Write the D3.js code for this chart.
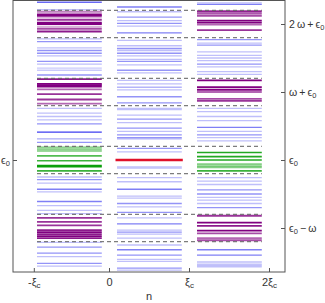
<!DOCTYPE html>
<html><head><meta charset="utf-8">
<script src="https://cdn.jsdelivr.net/npm/d3@7"></script>
<style>body{margin:0;background:#fff}svg{display:block}text{font-family:"Liberation Sans","DejaVu Sans",sans-serif;fill:#333}</style>
</head><body><svg id="c" width="325" height="303"></svg>
<script>
// energies in units of omega, relative to eps0
const colKeys = [-1, 0, 1];            // column n-offsets (in xi_c)
const windowCenters = [2, 1, 0, -1];   // resonance windows
const windowHalf = 0.2;
const redLevel = 0;                    // bare level in central column

const levelsLeft = [2.32,2.21,2.18,2.14,2.12,2.09,2.06,2.02,2.00,1.96,1.93,1.89,1.78,1.74,1.65,1.61,1.57,1.53,1.45,1.41,1.35,1.32,1.25,
  1.19,1.12,1.10,1.08,1.04,0.97,0.89,0.83,0.76,0.69,0.64,0.59,0.53,0.41,0.31,0.26,
  0.19,0.17,0.15,0.13,0.06,-0.01,-0.08,-0.10,-0.16,-0.25,-0.29,-0.34,-0.43,-0.47,-0.61,-0.67,-0.74,-0.79,
  -0.85,-0.91,-0.96,-1.03,-1.06,-1.09,-1.12,-1.15,-1.21,-1.28,-1.37,-1.42,-1.52,-1.56];
const weightsLeft = [0.7,0.3,0.5,1,1,0.3,0.8,1,1,0.3,0.7,0.9,0.3,0.5,0.3,0.5,0.5,0.3,0.5,0.3,0.25,0.25,0.5,
  0.9,1,1,1,0.6,0.8,0.8,0.6,0.3,0.3,0.3,0.3,0.5,0.9,0.4,0.5,
  0.4,0.4,0.4,0.4,0.7,0.8,1,1,0.8,0.3,0.5,0.3,0.6,0.3,0.6,0.3,0.3,0.3,
  0.8,0.8,0.8,0.9,1,0.9,1,0.9,0.3,0.5,0.5,0.3,0.5,0.3];

const levelsMid = [2.25,2.18,2.10,2.05,2.01,1.97,1.87,1.76,1.68,1.64,1.61,1.57,1.53,1.48,1.45,1.40,1.32,1.28,
  1.17,1.12,1.07,1.03,0.93,0.84,0.76,0.74,0.66,0.60,0.55,0.47,0.42,0.37,0.33,0.31,
  0.17,0.12,0.00,-0.10,-0.12,-0.26,-0.32,-0.43,-0.53,-0.56,-0.64,-0.69,-0.77,
  -0.85,-0.94,-1.03,-1.06,-1.09,-1.15,-1.25,-1.32,-1.40,-1.46,-1.49,-1.59,-1.62];
const weightsMid = [0.6,0.3,0.5,0.3,0.5,0.3,0.6,0.3,0.3,0.5,0.3,0.5,0.3,0.3,0.5,0.3,0.5,0.3,
  0.3,0.3,0.35,0.3,0.5,0.5,0.3,0.3,0.3,0.5,0.3,0.5,0.3,0.5,0.5,0.35,
  0.5,0.3,1,0.3,0.3,0.3,0.3,0.6,0.3,0.3,0.5,0.3,0.5,
  0.3,0.6,0.3,0.5,0.3,0.3,0.3,0.6,0.5,0.3,0.3,0.5,0.3];

const levelsRight = [2.31,2.29,2.19,2.17,2.15,2.12,2.05,2.02,1.99,1.91,1.77,1.72,1.69,1.59,1.54,1.50,1.46,1.41,1.37,1.30,1.26,
  1.17,1.07,1.03,1.00,0.90,0.87,0.76,0.71,0.64,0.58,0.48,0.42,0.37,0.33,0.28,
  0.11,0.05,0.00,-0.06,-0.09,-0.11,-0.16,-0.26,-0.31,-0.36,-0.44,-0.50,-0.55,-0.59,-0.64,-0.70,
  -0.82,-0.92,-0.97,-1.04,-1.08,-1.15,-1.18,-1.32,-1.40,-1.50,-1.53,-1.55,-1.57];
const weightsRight = [0.3,0.6,0.8,0.6,0.6,0.7,1,1,0.6,0.8,0.5,0.3,0.5,0.3,0.3,0.3,0.3,0.5,0.3,0.3,0.3,
  1,1,1,0.6,0.7,0.8,0.3,0.3,0.3,0.3,0.6,0.3,0.5,0.3,0.3,
  0.9,0.9,0.9,0.5,0.5,0.5,0.8,0.3,0.3,0.3,0.5,0.5,0.3,0.3,0.3,0.5,
  0.8,1,0.9,1,0.7,0.6,0.7,0.6,0.6,0.3,0.3,0.3,0.3];

const xTickValues = [-0.94, 0, 1, 2];
const xTickLabels = [["-ξ","c"],["0",""],["ξ","c"],["2ξ","c"]];
const yTickValues = [2, 1, 0, -1];
const yTickLabels = [["2\u2009ω\u2009+\u2009ϵ","0",""],["ω\u2009+\u2009ϵ","0",""],["ϵ","0",""],["ϵ","0","\u2009−\u2009ω"]];

const svg = d3.select("#c");
const L=13, R=285, T=0.5, B=272;
const x = d3.scaleLinear().domain([-1.2, 2.2]).range([L, R]);
const y = d3.scaleLinear().domain([-1.647, 2.353]).range([B, 0]);

const cols = [
  {k:-1, lv:levelsLeft, w:weightsLeft},
  {k:0, lv:levelsMid, w:weightsMid},
  {k:1, lv:levelsRight, w:weightsRight}
];
function colorOf(k, e){
  if (k === 0) return e === redLevel ? "red" : "blue";
  const m = windowCenters.find(c => Math.abs(e - c) <= windowHalf + 1e-9);
  if (m === undefined) return "blue";
  return m === 0 ? "green" : "purple";
}
const palette = {blue:"#3c3cf0", purple:"#800080", green:"#0a9f0a", red:"#e0102a"};
const widthOf = {blue:1.3, purple:1.8, green:1.6, red:2.4};

const g = svg.append("g");
cols.forEach(c => {
  const data = c.lv.map((e,i)=>({e, w:c.w[i], t:colorOf(c.k,e)}));
  g.selectAll(null).data(data).join("line")
    .attr("x1", d => x(c.k + 0.1) - (d.t==="red"?1.5:0))
    .attr("x2", d => x(c.k + 0.91) + (d.t==="red"?1:0))
    .attr("y1", d => y(d.e)).attr("y2", d => y(d.e))
    .attr("stroke", d => palette[d.t])
    .attr("stroke-opacity", d => d.t==="blue" ? Math.min(1, d.w*1.1) : d.w)
    .attr("stroke-width", d => widthOf[d.t]);
});

// window boundaries
const bounds = windowCenters.flatMap(c => [c - windowHalf, c + windowHalf]);
svg.append("g").selectAll("line").data(bounds).join("line")
  .attr("x1", x(-0.9)).attr("x2", x(1.91))
  .attr("y1", d=>y(d)).attr("y2", d=>y(d))
  .attr("stroke", "#666").attr("stroke-opacity",0.85)
  .attr("stroke-width", 1.2).attr("stroke-dasharray","4,3");

// frame
svg.append("rect").attr("x",L).attr("y",T).attr("width",R-L).attr("height",B-T)
  .attr("fill","none").attr("stroke","#555").attr("stroke-width",1);

// axes (ticks inward)
const ax = svg.append("g").attr("transform",`translate(0,${B})`)
  .call(d3.axisBottom(x).tickValues(xTickValues).tickSize(-4).tickFormat(""));
ax.select(".domain").remove();
ax.selectAll("line").attr("stroke","#555");
ax.selectAll(".tick").append("text").attr("y",14).attr("text-anchor","middle")
  .attr("font-size",11)
  .each(function(d,i){
    const t=d3.select(this), lab=xTickLabels[i];
    t.append("tspan").text(lab[0]);
    if(lab[1]) t.append("tspan").attr("font-size",8).attr("dy",2).text(lab[1]);
  });

const ar = svg.append("g").attr("transform",`translate(${R},0)`)
  .call(d3.axisRight(y).tickValues(yTickValues).tickSize(-4).tickFormat(""));
ar.select(".domain").remove();
ar.selectAll("line").attr("stroke","#555");
ar.selectAll(".tick").append("text").attr("x",4).attr("dy","0.35em").attr("text-anchor","start")
  .attr("font-size",10.5)
  .each(function(d,i){
    const t=d3.select(this), lab=yTickLabels[i];
    t.append("tspan").text(lab[0]);
    t.append("tspan").attr("font-size",7.5).attr("dy",2).text(lab[1]);
    if(lab[2]) t.append("tspan").attr("dy",-2).text(lab[2]);
  });

const al = svg.append("g").attr("transform",`translate(${L},0)`)
  .call(d3.axisLeft(y).tickValues([0]).tickSize(-4).tickFormat(""));
al.select(".domain").remove();
al.selectAll("line").attr("stroke","#555");
al.selectAll(".tick").append("text").attr("x",-L+1).attr("dy","0.35em").attr("text-anchor","start")
  .attr("font-size",10.5)
  .each(function(){
    const t=d3.select(this);
    t.append("tspan").text("ϵ");
    t.append("tspan").attr("font-size",7.5).attr("dy",2).text("0");
  });

svg.append("text").attr("x",x(0.5)).attr("y",300).attr("text-anchor","middle")
  .attr("font-size",11).text("n");
</script></body></html>
